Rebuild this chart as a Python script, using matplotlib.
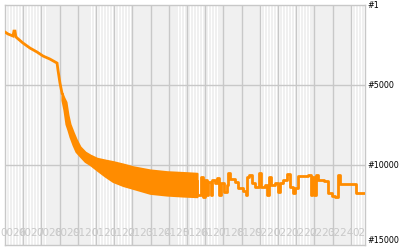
import numpy as np
import matplotlib
matplotlib.use("Agg")
import matplotlib.pyplot as plt

# early part of the rank history (months since start, rank)
early_months = [0.0, 0.16, 0.44, 0.49, 0.55, 0.60, 0.66, 0.99, 1.37, 1.76, 2.09,
                2.47, 2.75, 2.86, 2.91, 3.02, 3.13]
early_rank = [1690, 1810, 1940, 1630, 1630, 2000, 2060, 2380, 2690, 2940, 3190,
              3380, 3560, 3630, 4060, 4880, 5500]

# dense daily oscillation, given by its envelope
band_months = [3.13, 3.24, 3.35, 3.46, 3.57, 3.74, 3.90, 4.12, 4.40, 4.67, 5.05, 5.49,
               5.93, 6.48, 7.03, 7.97, 8.90, 9.78, 10.55]
band_best = [5500, 5810, 6060, 6875, 7440, 7940, 8375, 8860, 9190, 9375, 9580, 9690,
             9790, 9940, 10110, 10310, 10420, 10470, 10520]
band_worst = [5940, 6560, 7440, 7810, 8230, 8750, 9160, 9440, 9780, 9970, 10310, 10690,
              11030, 11280, 11460, 11770, 11880, 11940, 11980]

# later part, stepwise
late_months = [10.53, 10.56, 10.75, 10.90, 11.00, 11.08, 11.17, 11.30, 11.39, 11.54, 11.67,
               11.78, 11.85, 12.03, 12.18, 12.27, 12.36, 12.64, 12.82, 13.10, 13.24, 13.32,
               13.43, 13.56, 13.74, 13.98, 14.07, 14.29, 14.42, 14.49, 14.60, 14.84, 14.99,
               15.11, 15.30, 15.52, 15.66, 15.81, 15.93, 16.12, 16.67, 16.80, 16.89, 16.98,
               17.08, 17.22, 17.50, 17.74, 17.96, 18.14, 18.32, 18.41, 19.29, 19.78]
late_rank = [11000, 11880, 10730, 11980, 10940, 11880, 11040, 11880, 10940, 11150, 10830,
             11880, 11150, 11670, 11250, 10520, 10900, 11040, 11460, 11600, 11880, 10730,
             10630, 11150, 11350, 10520, 11350, 11250, 11880, 10730, 11250, 11100, 11670,
             11100, 10940, 10580, 11350, 11730, 11460, 10690, 10630, 11880, 10730, 11880,
             10630, 10940, 10980, 11770, 11940, 11980, 10630, 11210, 11770, 11770]

month_labels = ["0026", "0027", "0028", "0029", "0120", "0121", "0122", "0123", "0124", "0125",
                "0126", "0127", "0128", "0129", "0220", "0221", "0222", "0223", "0224", "02"]
rank_ticks = [1, 5000, 10000, 15000]
rank_labels = ["#1", "#5000", "#10000", "#15000"]

# month columns that carry the light stripes
striped = [(0.0, 2.2), (4.7, 4.95), (5.0, 7.0), (9.45, 11.8), (14.0, 16.75), (19.0, 19.78)]

orange = "#ff8c00"
grid_c = "#c8c8c8"

fig = plt.figure(figsize=(4, 2.5), dpi=100)
ax = fig.add_axes([5 / 400, 5 / 250, 360 / 400, 240 / 250])
ax.set_facecolor("#f0f0f0")
ax.set_xlim(0, 19.78)
ax.set_ylim(15000, 1)

for a, b in striped:
    for s in np.arange(a + 0.05, b, 0.165):
        ax.axvline(s, color="white", lw=0.8, zorder=0)

for m in range(1, 20):
    ax.axvline(m, color=grid_c, lw=1.0, zorder=1)
for r in [5000, 10000]:
    ax.axhline(r, color=grid_c, lw=1.0, zorder=1)

for i, lab in enumerate(month_labels):
    ax.text(i + 0.45, 0.05, lab, transform=ax.get_xaxis_transform(), ha="center", va="center",
            fontsize=7.5, color=grid_c, zorder=2)

ax.plot(early_months, early_rank, color=orange, lw=2.0, zorder=3, solid_joinstyle="miter")
ax.fill_between(band_months, band_best, band_worst, color=orange, lw=1.5, edgecolor=orange, zorder=3)
ax.plot(late_months, late_rank, color=orange, lw=2.0, drawstyle="steps-post", zorder=3)

for sp in ax.spines.values():
    sp.set_color(grid_c)
    sp.set_linewidth(1.0)

ax.set_xticks([])
ax.yaxis.tick_right()
ax.set_yticks(rank_ticks)
ax.set_yticklabels(rank_labels)
ax.tick_params(axis="y", length=0, pad=2, labelsize=5.8)
labels = ax.get_yticklabels()
labels[-1].set_verticalalignment("bottom")

fig.savefig("out.png", dpi=100)
